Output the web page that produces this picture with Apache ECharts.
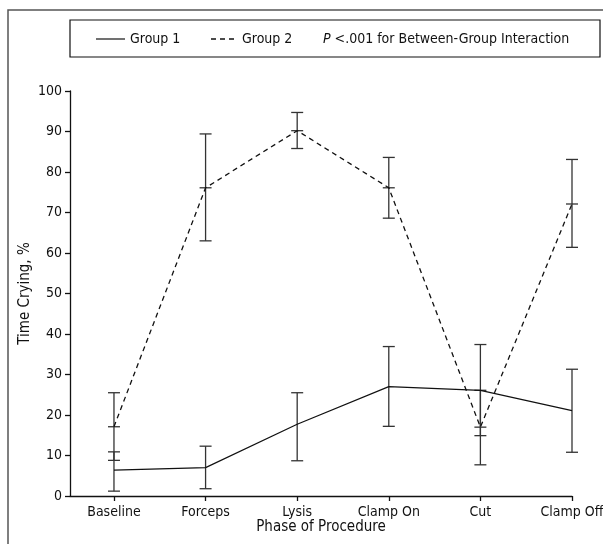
<!DOCTYPE html>
<html>
<head>
<meta charset="utf-8">
<script src="https://cdn.jsdelivr.net/npm/echarts@6/dist/echarts.min.js"></script>
<style>
html,body{margin:0;padding:0;background:#fff;}
#chart{width:603px;height:544px;}
</style>
</head>
<body>
<div id="chart"></div>
<script>
const categories = ['Baseline', 'Forceps', 'Lysis', 'Clamp On', 'Cut', 'Clamp Off'];
const yTicks = [0, 10, 20, 30, 40, 50, 60, 70, 80, 90, 100];
const group1Mean = [6.4, 7.0, 17.7, 27.0, 26.1, 21.1];
const group1Low  = [1.2, 1.8, 8.7, 17.2, 14.9, 10.8];
const group1High = [10.9, 12.3, 25.5, 36.9, 37.4, 31.3];
const group2Mean = [17.1, 76.1, 90.2, 76.1, 17.0, 72.1];
const group2Low  = [8.8, 63.0, 85.8, 68.6, 7.7, 61.4];
const group2High = [25.5, 89.4, 94.7, 83.6, 26.1, 83.1];
const legendNames = ['Group 1', 'Group 2'];
const noteText = ' <.001 for Between-Group Interaction';

const FONT = "'Liberation Sans Narrow', 'DejaVu Sans Condensed', 'Liberation Sans', sans-serif";
const idx = categories.map((c, i) => i);

function errData(mean, low, high) {
  return idx.map(i => [i, low[i], high[i], mean[i]]);
}
function makeErr(withMark) {
  return function (params, api) {
    const x = api.value(0);
    const pLo = api.coord([x, api.value(1)]);
    const pHi = api.coord([x, api.value(2)]);
    const pM = api.coord([x, api.value(3)]);
    const hw = 6;
    const st = { stroke: '#333', lineWidth: 1.3 };
    const ch = [
      { type: 'line', shape: { x1: pLo[0], y1: pLo[1], x2: pHi[0], y2: pHi[1] }, style: st },
      { type: 'line', shape: { x1: pLo[0] - hw, y1: pLo[1], x2: pLo[0] + hw, y2: pLo[1] }, style: st },
      { type: 'line', shape: { x1: pHi[0] - hw, y1: pHi[1], x2: pHi[0] + hw, y2: pHi[1] }, style: st }
    ];
    if (withMark) {
      ch.push({ type: 'line', shape: { x1: pM[0] - hw, y1: pM[1], x2: pM[0] + hw, y2: pM[1] }, style: st });
    }
    return { type: 'group', children: ch };
  };
}

const chart = echarts.init(document.getElementById('chart'), null, { renderer: 'canvas' });
chart.setOption({
  animation: false,
  backgroundColor: '#fff',
  textStyle: { fontFamily: FONT },
  grid: { left: 70, right: 31, top: 91, bottom: 48, containLabel: false, outerBoundsMode: 'none' },
  xAxis: {
    type: 'value', min: -0.48, max: 5,
    name: 'Phase of Procedure', nameLocation: 'middle', nameGap: 24, nameMoveOverlap: false,
    nameTextStyle: { fontFamily: FONT, fontSize: 15, color: '#111' },
    axisLine: { show: true, onZero: false, lineStyle: { color: '#111', width: 1.3 } },
    axisTick: { show: true, length: 5, customValues: idx, lineStyle: { color: '#111', width: 1.3 } },
    axisLabel: { customValues: idx, margin: 9, fontFamily: FONT, fontSize: 14, color: '#111',
      formatter: v => categories[Math.round(v)] },
    splitLine: { show: false }
  },
  yAxis: {
    type: 'value', min: 0, max: 100, interval: 10,
    name: 'Time Crying, %', nameLocation: 'middle', nameGap: 37, nameMoveOverlap: false,
    nameTextStyle: { fontFamily: FONT, fontSize: 15, color: '#111' },
    axisLine: { show: true, onZero: false, lineStyle: { color: '#111', width: 1.3 } },
    axisTick: { show: true, length: 5, lineStyle: { color: '#111', width: 1.3 } },
    axisLabel: { margin: 8, fontFamily: FONT, fontSize: 14, color: '#111',
      formatter: v => yTicks.includes(v) ? String(v) : '' },
    splitLine: { show: false }
  },
  series: [
    { name: legendNames[0], type: 'line', data: idx.map(i => [i, group1Mean[i]]),
      symbol: 'none', lineStyle: { color: '#111', width: 1.2, type: 'solid' }, z: 3 },
    { name: legendNames[1], type: 'line', data: idx.map(i => [i, group2Mean[i]]),
      symbol: 'none', lineStyle: { color: '#111', width: 1.3, type: [5, 4] }, z: 3 },
    { type: 'custom', renderItem: makeErr(false), data: errData(group1Mean, group1Low, group1High), z: 2, silent: true },
    { type: 'custom', renderItem: makeErr(true), data: errData(group2Mean, group2Low, group2High), z: 2, silent: true }
  ],
  graphic: [
    { type: 'rect', shape: { x: 8, y: 10, width: 640, height: 600 }, style: { fill: 'none', stroke: '#555', lineWidth: 1.5 }, silent: true },
    { type: 'rect', shape: { x: 70, y: 20, width: 530, height: 37 }, style: { fill: 'none', stroke: '#111', lineWidth: 1.2 }, silent: true },
    { type: 'line', shape: { x1: 96, y1: 39, x2: 125, y2: 39 }, style: { stroke: '#111', lineWidth: 1.2 }, silent: true },
    { type: 'text', x: 130, y: 39, style: { text: legendNames[0], fontFamily: FONT, fontSize: 14, fill: '#111', verticalAlign: 'middle' } },
    { type: 'line', shape: { x1: 211, y1: 39, x2: 238, y2: 39 }, style: { stroke: '#111', lineWidth: 1.3, lineDash: [5, 4] }, silent: true },
    { type: 'text', x: 242, y: 39, style: { text: legendNames[1], fontFamily: FONT, fontSize: 14, fill: '#111', verticalAlign: 'middle' } },
    { type: 'text', x: 323, y: 39,
      style: { text: '{i|P}' + noteText, fontFamily: FONT, fontSize: 14, fill: '#111', verticalAlign: 'middle',
        rich: { i: { fontStyle: 'italic', fontFamily: FONT, fontSize: 14, fill: '#111' } } } }
  ]
});
</script>
</body>
</html>
